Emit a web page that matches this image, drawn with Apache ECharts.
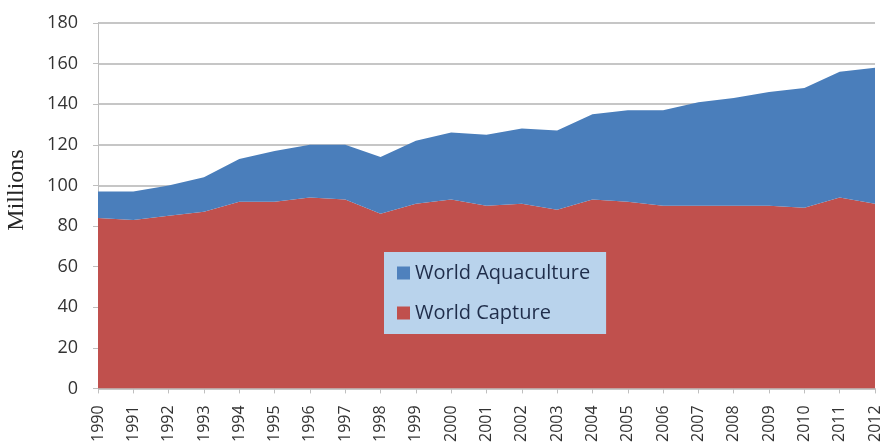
<!DOCTYPE html>
<html>
<head>
<meta charset="utf-8">
<script src="https://cdn.jsdelivr.net/npm/echarts@6/dist/echarts.min.js"></script>
<style>
  html, body { margin: 0; padding: 0; background: #fff; }
  #chart { width: 883px; height: 445px; }
</style>
</head>
<body>
<div id="chart"></div>
<script>
var years = ['1990', '1991', '1992', '1993', '1994', '1995', '1996', '1997', '1998', '1999', '2000',
  '2001', '2002', '2003', '2004', '2005', '2006', '2007', '2008', '2009', '2010', '2011', '2012']
// capture, millions of tonnes
var capture = [84, 83, 85, 87, 92, 92, 94, 93, 86, 91, 93, 90, 91, 88, 93, 92, 90, 90, 90, 90, 89, 94, 91]
// aquaculture, stacked on top of capture
var aquaculture = [13, 14, 15, 17, 21, 25, 26, 27, 28, 31, 33, 35, 37, 39, 42, 45, 47, 51, 53, 56, 59, 62, 67]
var yTicks = [0, 20, 40, 60, 80, 100, 120, 140, 160, 180]

var chart = echarts.init(document.getElementById('chart'))
chart.setOption({
  backgroundColor: '#ffffff',
  animation: false,
  grid: {
    left: 98,
    right: 5,
    top: 23,
    bottom: 56
  },
  legend: {
    data: ['World Aquaculture', 'World Capture'],
    orient: 'vertical',
    left: 384,
    top: 252,
    backgroundColor: '#b9d3ec',
    padding: [11, 16, 11, 13],
    itemGap: 20,
    itemWidth: 13,
    itemHeight: 13,
    icon: 'rect',
    textStyle: {
      fontFamily: 'Open Sans',
      fontSize: 20,
      color: '#1f2d4a'
    }
  },
  graphic: [{
    type: 'text',
    x: 17,
    y: 190,
    rotation: Math.PI / 2,
    style: {
      text: 'Millions',
      font: '24px "Liberation Serif"',
      fill: '#262626',
      align: 'center',
      verticalAlign: 'middle'
    }
  }],
  xAxis: {
    type: 'category',
    boundaryGap: false,
    data: years,
    axisLine: { lineStyle: { color: '#bfbfbf', width: 1 } },
    axisTick: { length: 5, lineStyle: { color: '#bfbfbf' } },
    axisLabel: {
      rotate: 90,
      margin: 17,
      fontFamily: 'Open Sans',
      fontSize: 16,
      color: '#333333'
    }
  },
  yAxis: {
    type: 'value',
    min: 0,
    max: yTicks[yTicks.length - 1],
    interval: 20,
    axisLine: { show: true, lineStyle: { color: '#bfbfbf', width: 1 } },
    axisTick: { show: true, length: 5, lineStyle: { color: '#bfbfbf' } },
    axisLabel: {
      margin: 20,
      fontFamily: 'Open Sans',
      fontSize: 18,
      color: '#333333'
    },
    splitLine: { lineStyle: { color: '#c6c6c6', width: 2 } }
  },
  series: [
    {
      name: 'World Capture',
      type: 'line',
      stack: 'total',
      data: capture,
      symbol: 'none',
      lineStyle: { width: 0 },
      itemStyle: { color: '#c0504d' },
      areaStyle: { color: '#c0504d', opacity: 1 }
    },
    {
      name: 'World Aquaculture',
      type: 'line',
      stack: 'total',
      data: aquaculture,
      symbol: 'none',
      lineStyle: { width: 0 },
      itemStyle: { color: '#4f81bd' },
      areaStyle: { color: '#4a7ebb', opacity: 1 }
    }
  ]
})
</script>
</body>
</html>
